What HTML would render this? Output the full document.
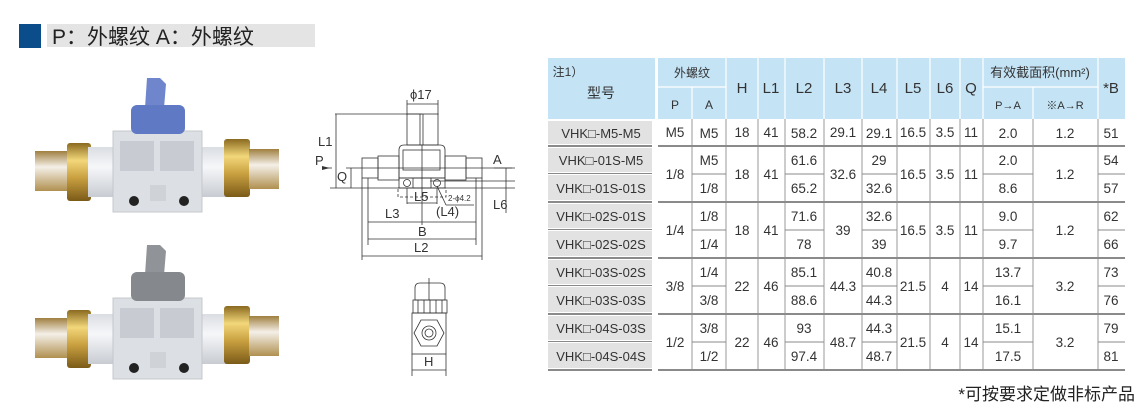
<!DOCTYPE html>
<html><head><meta charset="utf-8"><style>
html,body{margin:0;padding:0;background:#fff;}
svg{display:block}
text{font-family:"Liberation Sans","Noto Sans CJK SC",sans-serif;fill:#333}
</style></head><body>
<svg width="1140" height="420" viewBox="0 0 1140 420" xmlns="http://www.w3.org/2000/svg">
<rect x="19" y="24" width="22" height="24" fill="#0b4d8a"/>
<rect x="47" y="24" width="268" height="23" fill="#e4e4e4"/>
<text x="52" y="44" font-size="21" style="fill:#222">P：外螺纹  A：外螺纹</text>

<defs>
<linearGradient id="brass" x1="0" y1="0" x2="0" y2="1"><stop offset="0" stop-color="#8a6a20"/><stop offset="0.3" stop-color="#f2d77a"/><stop offset="0.6" stop-color="#c9a040"/><stop offset="1" stop-color="#7a5a18"/></linearGradient>
<linearGradient id="thr" x1="0" y1="0" x2="0" y2="1"><stop offset="0" stop-color="#a08040"/><stop offset="0.4" stop-color="#f4f0e8"/><stop offset="1" stop-color="#b09050"/></linearGradient>
<linearGradient id="tube" x1="0" y1="0" x2="0" y2="1"><stop offset="0" stop-color="#dadde2"/><stop offset="0.4" stop-color="#f6f7f9"/><stop offset="1" stop-color="#c8ccd2"/></linearGradient>
<g id="valve">
<rect x="35" y="96" width="34" height="40" fill="url(#thr)"/>
<rect x="67" y="88" width="24" height="58" rx="3" fill="url(#brass)"/>
<rect x="88" y="92" width="148" height="50" fill="url(#tube)"/>
<rect x="224" y="84" width="26" height="58" rx="3" fill="url(#brass)"/>
<rect x="249" y="94" width="30" height="40" fill="url(#thr)"/>
<rect x="113" y="76" width="89" height="81" fill="#dcdfe4" stroke="#c4c8ce"/>
<rect x="120" y="86" width="34" height="30" fill="#c8ccd2"/>
<rect x="160" y="86" width="34" height="30" fill="#c8ccd2"/>
<rect x="150" y="130" width="16" height="16" fill="#cfd2d7"/>
<circle cx="134" cy="146" r="5" fill="#222"/>
<circle cx="184" cy="146" r="5" fill="#222"/>
</g>
</defs>
<use href="#valve" x="0" y="55"/>
<path d="M147 78 L160 78 L166 84 L164 108 L145 108 Z" fill="#6f86cc"/>
<rect x="131" y="105" width="54" height="29" rx="6" fill="#5f79c4"/>
<use href="#valve" x="0" y="222"/>
<path d="M147 245 L160 245 L166 251 L164 275 L145 275 Z" fill="#909397"/>
<rect x="131" y="272" width="54" height="29" rx="6" fill="#85888c"/>

<g stroke="#333" stroke-width="0.8" fill="none">
<line x1="407" y1="104" x2="438" y2="104"/>
<line x1="407" y1="100" x2="407" y2="115"/><line x1="438" y1="100" x2="438" y2="115"/>
<rect x="407" y="114" width="31" height="31"/>
<line x1="420" y1="114" x2="420" y2="145"/><line x1="423" y1="114" x2="423" y2="145"/>
<line x1="335" y1="114" x2="422" y2="114"/>
<line x1="336" y1="114" x2="336" y2="188"/>
<path d="M399 178 V150 Q399 145 404 145 H440 Q445 145 445 150 V178 Z"/>
<rect x="403" y="150" width="37" height="20"/>
<rect x="378" y="156" width="21" height="24"/>
<rect x="445" y="156" width="21" height="24"/>
<rect x="362" y="158" width="16" height="20"/>
<rect x="466" y="158" width="16" height="20"/>
<rect x="399" y="178" width="46" height="10"/>
<rect x="413" y="178" width="18" height="10"/>
<circle cx="407" cy="183" r="3.5"/><circle cx="437" cy="183" r="3.5"/>
<rect x="398" y="188" width="48" height="9" stroke-dasharray="3 2"/>
<line x1="330" y1="188" x2="515" y2="188"/>
<line x1="346" y1="168" x2="515" y2="168"/>
<line x1="351" y1="168" x2="351" y2="188"/>
<line x1="430" y1="181" x2="515" y2="181"/>
<line x1="506" y1="168" x2="506" y2="213"/>
<line x1="494" y1="168" x2="512" y2="168"/>
<line x1="407" y1="188" x2="407" y2="204"/><line x1="437" y1="188" x2="437" y2="204"/>
<line x1="407" y1="203" x2="437" y2="203"/>
<line x1="437" y1="186" x2="446" y2="205"/>
<line x1="446" y1="205" x2="474" y2="205"/>
<line x1="362" y1="178" x2="362" y2="260"/><line x1="368" y1="178" x2="368" y2="245"/>
<line x1="476" y1="178" x2="476" y2="245"/><line x1="482" y1="178" x2="482" y2="260"/>
<line x1="422" y1="145" x2="422" y2="225"/>
<line x1="368" y1="222" x2="476" y2="222"/>
<line x1="368" y1="239" x2="476" y2="239"/>
<line x1="362" y1="256" x2="482" y2="256"/>
<line x1="322" y1="168" x2="332" y2="168"/>
<path d="M415 300 V288 Q415 283 420 283 H440 Q445 283 445 288 V300 Z"/>
<rect x="413" y="300" width="34" height="13"/>
<line x1="418" y1="300" x2="418" y2="313"/><line x1="424" y1="300" x2="424" y2="313"/><line x1="430" y1="300" x2="430" y2="313"/><line x1="436" y1="300" x2="436" y2="313"/><line x1="442" y1="300" x2="442" y2="313"/>
<rect x="412" y="313" width="34" height="41"/>
<polygon points="421,320 437,320 444,333 437,346 421,346 414,333"/>
<circle cx="429" cy="333" r="7"/><circle cx="429" cy="333" r="4"/>
<line x1="429" y1="278" x2="429" y2="300"/>
<line x1="412" y1="354" x2="412" y2="376"/><line x1="446" y1="354" x2="446" y2="376"/>
<line x1="412" y1="370" x2="446" y2="370"/>
</g>
<polygon points="330,168 322,166 322,170" fill="#333"/>
<g font-size="13">
<text x="410" y="99">ϕ17</text>
<text x="318" y="146">L1</text>
<text x="315" y="165">P</text>
<text x="337" y="181">Q</text>
<text x="493" y="164">A</text>
<text x="493" y="209">L6</text>
<text x="414" y="201">L5</text>
<text x="436" y="216">(L4)</text>
<text x="385" y="218">L3</text>
<text x="418" y="236">B</text>
<text x="414" y="252">L2</text>
<text x="424" y="366">H</text>
</g>
<text x="448" y="201" font-size="8">2-ϕ4.2</text>

<rect x="548" y="58" width="107" height="61" fill="#c4e3f5"/>
<rect x="658" y="58" width="467" height="61" fill="#c4e3f5"/>
<g stroke="#fff" stroke-width="1.2">
<line x1="658" y1="87" x2="726" y2="87"/><line x1="983" y1="87" x2="1098" y2="87"/>
<line x1="692" y1="87" x2="692" y2="119"/><line x1="1033" y1="87" x2="1033" y2="119"/>
<line x1="726" y1="58" x2="726" y2="119"/><line x1="758" y1="58" x2="758" y2="119"/><line x1="785" y1="58" x2="785" y2="119"/><line x1="824" y1="58" x2="824" y2="119"/><line x1="862" y1="58" x2="862" y2="119"/><line x1="897" y1="58" x2="897" y2="119"/><line x1="930" y1="58" x2="930" y2="119"/><line x1="960" y1="58" x2="960" y2="119"/><line x1="983" y1="58" x2="983" y2="119"/><line x1="1098" y1="58" x2="1098" y2="119"/>
</g>
<g fill="#e2e2e2">
<rect x="548" y="121" width="104" height="23"/>
<rect x="548" y="148" width="104" height="24"/>
<rect x="548" y="175" width="104" height="25"/>
<rect x="548" y="204" width="104" height="24"/>
<rect x="548" y="231" width="104" height="25"/>
<rect x="548" y="260" width="104" height="24"/>
<rect x="548" y="287" width="104" height="25"/>
<rect x="548" y="316" width="104" height="24"/>
<rect x="548" y="343" width="104" height="25"/>
</g>
<g stroke="#999" stroke-width="1">
<line x1="692" y1="119" x2="692" y2="370"/><line x1="726" y1="119" x2="726" y2="370"/><line x1="758" y1="119" x2="758" y2="370"/><line x1="785" y1="119" x2="785" y2="370"/><line x1="824" y1="119" x2="824" y2="370"/><line x1="862" y1="119" x2="862" y2="370"/><line x1="897" y1="119" x2="897" y2="370"/><line x1="930" y1="119" x2="930" y2="370"/><line x1="960" y1="119" x2="960" y2="370"/><line x1="983" y1="119" x2="983" y2="370"/><line x1="1033" y1="119" x2="1033" y2="370"/><line x1="1098" y1="119" x2="1098" y2="370"/>
</g>
<g stroke="#8a8a8a" stroke-width="2">
<line x1="548" y1="146" x2="652" y2="146"/><line x1="658" y1="146" x2="1125" y2="146"/>
<line x1="548" y1="202" x2="652" y2="202"/><line x1="658" y1="202" x2="1125" y2="202"/>
<line x1="548" y1="258" x2="652" y2="258"/><line x1="658" y1="258" x2="1125" y2="258"/>
<line x1="548" y1="314" x2="652" y2="314"/><line x1="658" y1="314" x2="1125" y2="314"/>
<line x1="548" y1="370" x2="652" y2="370"/><line x1="658" y1="370" x2="1125" y2="370"/>
</g>
<g stroke="#888" stroke-width="1">
<line x1="548" y1="173.5" x2="652" y2="173.5"/><line x1="548" y1="229.5" x2="652" y2="229.5"/><line x1="548" y1="285.5" x2="652" y2="285.5"/><line x1="548" y1="341.5" x2="652" y2="341.5"/>
<path d="M692 174H726M785 174H824M862 174H897M983 174H1033M1098 174H1125"/>
<path d="M692 230H726M785 230H824M862 230H897M983 230H1033M1098 230H1125"/>
<path d="M692 286H726M785 286H824M862 286H897M983 286H1033M1098 286H1125"/>
<path d="M692 342H726M785 342H824M862 342H897M983 342H1033M1098 342H1125"/>
</g>
<g font-size="12" text-anchor="middle">
<text x="568" y="76">注1）</text>
<text x="601" y="98" font-size="14">型号</text>
<text x="692" y="77">外螺纹</text>
<text x="675" y="109">P</text><text x="709" y="109">A</text>
<text x="1040" y="77" font-size="13">有效截面积(mm²)</text>
<text x="1008" y="109" font-size="11">P→A</text><text x="1065" y="109" font-size="11">※A→R</text>
</g>
<g font-size="15" text-anchor="middle">
<text x="742" y="93">H</text><text x="771" y="93">L1</text><text x="804" y="93">L2</text><text x="843" y="93">L3</text><text x="879" y="93">L4</text><text x="913" y="93">L5</text><text x="945" y="93">L6</text><text x="971" y="93">Q</text><text x="1111" y="93">*B</text>
</g>
<g font-size="13" text-anchor="middle">
<text x="601" y="138">VHK□-M5-M5</text>
<text x="601" y="165">VHK□-01S-M5</text>
<text x="601" y="193">VHK□-01S-01S</text>
<text x="601" y="221">VHK□-02S-01S</text>
<text x="601" y="249">VHK□-02S-02S</text>
<text x="601" y="277">VHK□-03S-02S</text>
<text x="601" y="305">VHK□-03S-03S</text>
<text x="601" y="333">VHK□-04S-03S</text>
<text x="601" y="361">VHK□-04S-04S</text>
</g>
<g font-size="13.5" text-anchor="middle">
<text x="675" y="137">M5</text><text x="709" y="138">M5</text><text x="742" y="137">18</text><text x="771" y="137">41</text><text x="804" y="138">58.2</text><text x="843" y="137">29.1</text><text x="879" y="138">29.1</text><text x="913" y="137">16.5</text><text x="945" y="137">3.5</text><text x="971" y="137">11</text><text x="1008" y="138">2.0</text><text x="1065" y="138">1.2</text><text x="1111" y="138">51</text>
<text x="675" y="179">1/8</text><text x="709" y="165">M5</text><text x="709" y="193">1/8</text><text x="742" y="179">18</text><text x="771" y="179">41</text><text x="804" y="165">61.6</text><text x="804" y="193">65.2</text><text x="843" y="179">32.6</text><text x="879" y="165">29</text><text x="879" y="193">32.6</text><text x="913" y="179">16.5</text><text x="945" y="179">3.5</text><text x="971" y="179">11</text><text x="1008" y="165">2.0</text><text x="1008" y="193">8.6</text><text x="1065" y="179">1.2</text><text x="1111" y="165">54</text><text x="1111" y="193">57</text>
<text x="675" y="235">1/4</text><text x="709" y="221">1/8</text><text x="709" y="249">1/4</text><text x="742" y="235">18</text><text x="771" y="235">41</text><text x="804" y="221">71.6</text><text x="804" y="249">78</text><text x="843" y="235">39</text><text x="879" y="221">32.6</text><text x="879" y="249">39</text><text x="913" y="235">16.5</text><text x="945" y="235">3.5</text><text x="971" y="235">11</text><text x="1008" y="221">9.0</text><text x="1008" y="249">9.7</text><text x="1065" y="235">1.2</text><text x="1111" y="221">62</text><text x="1111" y="249">66</text>
<text x="675" y="291">3/8</text><text x="709" y="277">1/4</text><text x="709" y="305">3/8</text><text x="742" y="291">22</text><text x="771" y="291">46</text><text x="804" y="277">85.1</text><text x="804" y="305">88.6</text><text x="843" y="291">44.3</text><text x="879" y="277">40.8</text><text x="879" y="305">44.3</text><text x="913" y="291">21.5</text><text x="945" y="291">4</text><text x="971" y="291">14</text><text x="1008" y="277">13.7</text><text x="1008" y="305">16.1</text><text x="1065" y="291">3.2</text><text x="1111" y="277">73</text><text x="1111" y="305">76</text>
<text x="675" y="347">1/2</text><text x="709" y="333">3/8</text><text x="709" y="361">1/2</text><text x="742" y="347">22</text><text x="771" y="347">46</text><text x="804" y="333">93</text><text x="804" y="361">97.4</text><text x="843" y="347">48.7</text><text x="879" y="333">44.3</text><text x="879" y="361">48.7</text><text x="913" y="347">21.5</text><text x="945" y="347">4</text><text x="971" y="347">14</text><text x="1008" y="333">15.1</text><text x="1008" y="361">17.5</text><text x="1065" y="347">3.2</text><text x="1111" y="333">79</text><text x="1111" y="361">81</text>
</g>
<text x="1135" y="400" font-size="17" text-anchor="end" style="fill:#222">*可按要求定做非标产品</text>
</svg>
</body></html>
